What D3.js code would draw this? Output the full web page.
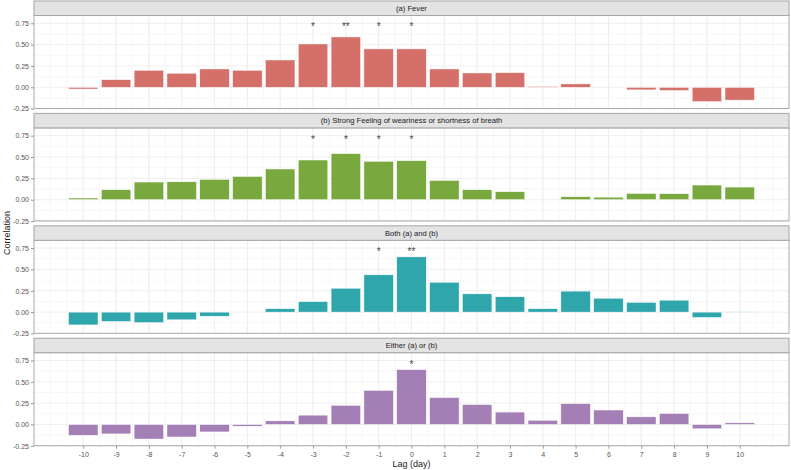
<!DOCTYPE html>
<html>
  <head>
    <meta charset="utf-8">
    <script src="https://cdn.jsdelivr.net/npm/d3@7/dist/d3.min.js"></script>
    <style>
      body { margin: 0; background: #fff; }
      text { font-family: "Liberation Sans", Arial, sans-serif; }
    </style>
  </head>
  <body>
    <script>
      // Lags shown on the x axis
      var lags = d3.range(-10, 11);

      // Facet titles
      var panelTitles = ["(a) Fever",
        "(b) Strong Feeling of weariness or shortness of breath",
        "Both (a) and (b)",
        "Either (a) or (b)"];

      // Correlation per lag, one array per facet (null = no bar)
      var fever = [-0.02, 0.09, 0.20, 0.165, 0.215, 0.20, 0.32, 0.508, 0.59, 0.45,
                   0.45, 0.215, 0.168, 0.172, 0.01, 0.04, null, -0.03, -0.037, -0.168, -0.15];
      var weariness = [0.02, 0.117, 0.207, 0.21, 0.238, 0.273, 0.36, 0.465, 0.54, 0.45,
                       0.457, 0.227, 0.117, 0.094, null, 0.035, 0.03, 0.074, 0.07, 0.172, 0.148];
      var both = [-0.15, -0.11, -0.123, -0.09, -0.048, null, 0.04, 0.123, 0.28, 0.437,
                  0.647, 0.35, 0.214, 0.18, 0.04, 0.246, 0.163, 0.115, 0.14, -0.063, 0.005];
      var either = [-0.126, -0.11, -0.17, -0.146, -0.087, -0.02, 0.043, 0.11, 0.225, 0.40,
                    0.643, 0.316, 0.233, 0.146, 0.05, 0.245, 0.17, 0.09, 0.13, -0.05, 0.02];

      // Significance marks per facet: [lag, label]
      var feverStars = [[-3, "*"], [-2, "**"], [-1, "*"], [0, "*"]];
      var wearinessStars = [[-3, "*"], [-2, "*"], [-1, "*"], [0, "*"]];
      var bothStars = [[-1, "*"], [0, "**"]];
      var eitherStars = [[0, "*"]];

      var yTicks = [-0.25, 0, 0.25, 0.5, 0.75];
      var colors = ["#D46F6A", "#79A83F", "#2FA6AC", "#A47FB5"];

      var series = [fever, weariness, both, either];
      var stars = [feverStars, wearinessStars, bothStars, eitherStars];

      // Sizes of the page and of every facet
      var width = 791, height = 470;
      var left = 34, right = 789;
      var stripH = 14.5, panelH = 93, step = 112.4, top0 = 1;

      // ggplot style labels use a plain hyphen for negatives
      var fmtY = function(d) { return d3.format(".2f")(d).replace("\u2212", "-"); };
      var fmtX = function(d) { return String(d); };

      var svg = d3.select("body").append("svg")
        .attr("width", width).attr("height", height);

      var x = d3.scaleLinear().domain([-11.5, 11.5]).range([left, right]);
      var y = d3.scaleLinear().domain([-0.248, 0.841]).range([panelH, 0]);

      series.forEach(function(vals, i) {
        var stripTop = top0 + i * step;
        var g = svg.append("g")
          .attr("transform", "translate(0," + (stripTop + stripH) + ")");

        // Strip with the facet title
        svg.append("rect")
          .attr("x", left).attr("y", stripTop)
          .attr("width", right - left).attr("height", stripH)
          .attr("fill", "#E3E3E3").attr("stroke", "#A6A6A6").attr("stroke-width", 1);
        svg.append("text")
          .attr("x", (left + right) / 2).attr("y", stripTop + stripH / 2 + 2.7)
          .attr("text-anchor", "middle").attr("font-size", 7.6)
          .attr("fill", "#1A1A1A").text(panelTitles[i]);

        // Grid lines, minor first
        var minorX = d3.range(-11, 11.01, 0.5);
        var minorY = [-0.125, 0.125, 0.375, 0.625];
        g.selectAll(".mx").data(minorX).enter().append("line")
          .attr("x1", function(d) { return x(d); }).attr("x2", function(d) { return x(d); })
          .attr("y1", 0).attr("y2", panelH)
          .attr("stroke", "#F2F2F2").attr("stroke-width", 0.6);
        g.selectAll(".my").data(minorY).enter().append("line")
          .attr("x1", left).attr("x2", right)
          .attr("y1", function(d) { return y(d); }).attr("y2", function(d) { return y(d); })
          .attr("stroke", "#F2F2F2").attr("stroke-width", 0.6);
        g.selectAll(".gx").data(lags).enter().append("line")
          .attr("x1", function(d) { return x(d); }).attr("x2", function(d) { return x(d); })
          .attr("y1", 0).attr("y2", panelH)
          .attr("stroke", "#EBEBEB").attr("stroke-width", 0.8);
        g.selectAll(".gy").data(yTicks).enter().append("line")
          .attr("x1", left).attr("x2", right)
          .attr("y1", function(d) { return y(d); }).attr("y2", function(d) { return y(d); })
          .attr("stroke", "#EBEBEB").attr("stroke-width", 0.8);

        // Bars
        var data = lags.map(function(l, k) { return [l, vals[k]]; })
          .filter(function(d) { return d[1] !== null; });
        g.selectAll(".bar").data(data).enter().append("rect")
          .attr("x", function(d) { return x(d[0] - 0.45); })
          .attr("width", x(0.9) - x(0))
          .attr("y", function(d) { return y(Math.max(0, d[1])); })
          .attr("height", function(d) { return Math.abs(y(d[1]) - y(0)); })
          .attr("fill", colors[i]).attr("stroke", "#fff").attr("stroke-width", 0.5);

        // Significance stars
        g.selectAll(".star").data(stars[i]).enter().append("text")
          .attr("x", function(d) { return x(d[0]); })
          .attr("y", y(0.73) + 5.5)
          .attr("text-anchor", "middle").attr("font-size", 10)
          .attr("fill", "#444").text(function(d) { return d[1]; });

        // Panel border
        g.append("rect")
          .attr("x", left).attr("y", 0)
          .attr("width", right - left).attr("height", panelH)
          .attr("fill", "none").attr("stroke", "#ABABAB").attr("stroke-width", 1);

        // Y axis
        var yAxis = d3.axisLeft(y).tickValues(yTicks).tickFormat(fmtY)
          .tickSize(3).tickPadding(2);
        var ya = g.append("g").attr("transform", "translate(" + left + ",0)").call(yAxis);
        ya.select(".domain").remove();
        ya.selectAll("line").attr("stroke", "#999");
        ya.selectAll("text").attr("font-size", 7).attr("fill", "#555")
          .attr("font-family", "Liberation Sans, Arial, sans-serif");

        // X axis on the last facet only
        if (i === series.length - 1) {
          var xAxis = d3.axisBottom(x).tickValues(lags).tickFormat(fmtX)
            .tickSize(3).tickPadding(3);
          var xa = g.append("g").attr("transform", "translate(0," + panelH + ")").call(xAxis);
          xa.select(".domain").remove();
          xa.selectAll("line").attr("stroke", "#999");
          xa.selectAll("text").attr("font-size", 7).attr("fill", "#555")
            .attr("font-family", "Liberation Sans, Arial, sans-serif");
        }
      });

      // Axis titles
      svg.append("text")
        .attr("x", (left + right) / 2).attr("y", 467)
        .attr("text-anchor", "middle").attr("font-size", 9).attr("fill", "#1A1A1A")
        .text("Lag (day)");
      svg.append("text")
        .attr("transform", "translate(10," + 233 + ") rotate(-90)")
        .attr("text-anchor", "middle").attr("font-size", 9).attr("fill", "#1A1A1A")
        .text("Correlation");
    </script>
  </body>
</html>
